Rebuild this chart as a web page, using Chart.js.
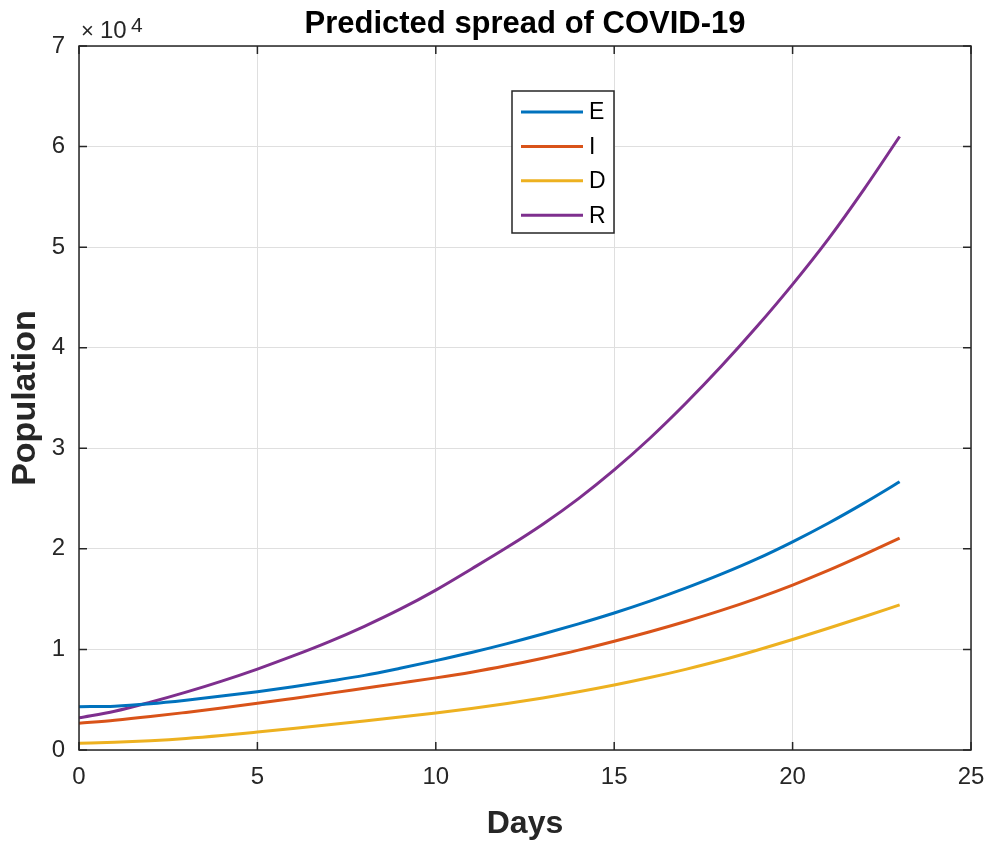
<!DOCTYPE html>
<html lang="en">
<head>
    <meta charset="UTF-8">
    <title>Predicted spread of COVID-19</title>
    <script src="https://cdnjs.cloudflare.com/ajax/libs/Chart.js/4.4.0/chart.umd.min.js"></script>
</head>
<script type="text/javascript">
    // values (population, raw counts)
    const days = [0, 1, 2, 3, 4, 5, 6, 7, 8, 9, 10, 11, 12, 13, 14, 15, 16, 17, 18, 19, 20, 21, 22, 23];
    const exposed = [4310, 4360, 4600, 4950, 5360, 5800, 6300, 6840, 7420, 8130, 8890, 9700, 10580, 11530, 12540, 13620, 14800, 16090, 17480, 19000, 20700, 22550, 24550, 26670];
    const infected = [2650, 2950, 3320, 3740, 4180, 4640, 5130, 5630, 6140, 6650, 7170, 7740, 8400, 9130, 9930, 10820, 11760, 12780, 13880, 15080, 16400, 17850, 19420, 21060];
    const dead = [660, 770, 930, 1150, 1440, 1780, 2140, 2510, 2890, 3280, 3680, 4130, 4630, 5180, 5790, 6460, 7200, 8020, 8920, 9920, 10990, 12110, 13250, 14430];
    const recovered = [3200, 3850, 4750, 5750, 6850, 8050, 9350, 10750, 12300, 14000, 15900, 18000, 20150, 22450, 25000, 27850, 31000, 34450, 38150, 42100, 46300, 50800, 55750, 61000];
    const seriesNames = ['E', 'I', 'D', 'R'];
    const seriesColors = ['#0072BD', '#D95319', '#EDB120', '#7E2F8E'];
    const xTicks = [0, 5, 10, 15, 20, 25];
    const yTicks = [0, 10000, 20000, 30000, 40000, 50000, 60000, 70000];
</script>
<style>
    body { margin: 0; background: #fff; }
    #chart-container { width: 1000px; height: 843px; }
</style>
<body>
    <div id="chart-container">
        <canvas id="chart"></canvas>
    </div>
</body>
<script type="text/javascript">
    const FONT = "'Liberation Sans', Arial, Helvetica, sans-serif";
    const INK = '#262626';

    const toPoints = (ys) => days.map((d, i) => ({x: d, y: ys[i]}));
    const data = {
        datasets: [exposed, infected, dead, recovered].map((ys, i) => ({
            label: seriesNames[i],
            data: toPoints(ys),
            borderColor: seriesColors[i],
            borderWidth: 3,
            pointRadius: 0,
            cubicInterpolationMode: 'monotone',
            fill: false,
        })),
    };

    // box, inward ticks, titles, exponent and legend, matlab style
    const matlab_plugin = {
        id: 'matlabDecor',
        afterDraw: (chart) => {
            const {ctx, chartArea: a, scales} = chart;
            ctx.save();
            ctx.strokeStyle = INK;
            ctx.lineWidth = 1.5;
            ctx.strokeRect(a.left, a.top, a.right - a.left, a.bottom - a.top);
            ctx.beginPath();
            xTicks.forEach(v => {
                const px = scales.x.getPixelForValue(v);
                ctx.moveTo(px, a.bottom); ctx.lineTo(px, a.bottom - 8);
                ctx.moveTo(px, a.top); ctx.lineTo(px, a.top + 8);
            });
            yTicks.forEach(v => {
                const py = scales.y.getPixelForValue(v);
                ctx.moveTo(a.left, py); ctx.lineTo(a.left + 8, py);
                ctx.moveTo(a.right, py); ctx.lineTo(a.right - 8, py);
            });
            ctx.stroke();

            ctx.fillStyle = '#000';
            ctx.textAlign = 'center';
            ctx.textBaseline = 'alphabetic';
            ctx.font = 'bold 31px ' + FONT;
            ctx.fillText('Predicted spread of COVID-19', (a.left + a.right) / 2, 33);

            ctx.fillStyle = INK;
            ctx.font = 'bold 32px ' + FONT;
            ctx.fillText('Days', (a.left + a.right) / 2, 833);
            ctx.save();
            ctx.translate(35, (a.top + a.bottom) / 2);
            ctx.rotate(-Math.PI / 2);
            ctx.font = 'bold 34px ' + FONT;
            ctx.fillText('Population', 0, 0);
            ctx.restore();

            ctx.textAlign = 'left';
            ctx.font = '22px ' + FONT;
            ctx.fillText('\u00d7', 81, 38);
            ctx.font = '24px ' + FONT;
            ctx.fillText('10', 100, 38);
            ctx.font = '21px ' + FONT;
            ctx.fillText('4', 131, 32);

            // legend
            const lx = 512, ly = 91, lw = 102, lh = 142;
            ctx.fillStyle = '#fff';
            ctx.fillRect(lx, ly, lw, lh);
            ctx.strokeStyle = INK;
            ctx.lineWidth = 1.5;
            ctx.strokeRect(lx, ly, lw, lh);
            ctx.font = '23px ' + FONT;
            ctx.textBaseline = 'middle';
            seriesNames.forEach((name, i) => {
                const y = 112 + i * 34.4;
                ctx.strokeStyle = seriesColors[i];
                ctx.lineWidth = 3;
                ctx.beginPath();
                ctx.moveTo(521, y); ctx.lineTo(583, y);
                ctx.stroke();
                ctx.fillStyle = '#000';
                ctx.fillText(name, 589, y + 1);
            });
            ctx.restore();
        }
    };

    const config = {
        type: 'line',
        data: data,
        options: {
            responsive: true,
            maintainAspectRatio: false,
            animation: false,
            layout: {padding: {left: 0, top: 46, right: 29, bottom: 0}},
            scales: {
                x: {
                    type: 'linear',
                    min: 0,
                    max: 25,
                    afterFit: (scale) => { scale.height = 93; },
                    afterBuildTicks: (scale) => { scale.ticks = xTicks.map(v => ({value: v})); },
                    grid: {color: '#dfdfdf', lineWidth: 1, drawTicks: false},
                    border: {display: false},
                    ticks: {
                        padding: 13,
                        color: INK,
                        font: {family: FONT, size: 24},
                        maxRotation: 0,
                    },
                },
                y: {
                    type: 'linear',
                    min: 0,
                    max: 70000,
                    afterFit: (scale) => { scale.width = 79; },
                    afterBuildTicks: (scale) => { scale.ticks = yTicks.map(v => ({value: v})); },
                    grid: {color: '#dfdfdf', lineWidth: 1, drawTicks: false},
                    border: {display: false},
                    ticks: {
                        padding: 14,
                        color: INK,
                        font: {family: FONT, size: 24},
                        callback: (v) => String(v / 10000),
                    },
                },
            },
            plugins: {
                legend: {display: false},
                title: {display: false},
                tooltip: {enabled: false},
            },
        },
        plugins: [matlab_plugin],
    };

    const canvas = document.getElementById('chart');
    const chart = new Chart(canvas, config);
</script>
</html>
